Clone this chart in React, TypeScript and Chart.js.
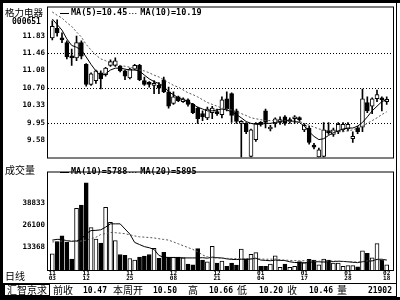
import React, { useEffect, useRef } from 'react';
import { Chart, registerables } from 'chart.js';

Chart.register(...registerables);

const stockName = '格力电器';
const stockCode = '000651';

const opens = [
  11.78, 11.99, 11.78, 11.68, 11.39, 11.35, 11.68, 11.21, 10.78, 10.86,
  11.03, 10.99, 11.19, 11.19, 11.17, 11.07, 10.92, 11.11, 11.19, 10.86,
  10.82, 10.76, 10.76, 10.88, 10.62, 10.37, 10.51, 10.41, 10.45, 10.35,
  10.27, 10.15, 10.06, 10.17, 10.19, 10.13, 10.47, 10.58, 10.21, 9.94,
  9.94, 9.23, 9.59, 9.94, 10.21, 9.82, 9.94, 9.96, 10.08, 9.98,
  10.04, 10.06, 9.80, 9.84, 9.47, 9.22, 9.23, 9.76, 9.70, 9.76,
  9.80, 9.82, 9.61, 9.84, 9.86, 10.39, 10.31, 10.47, 10.49, 10.41,
];
const highs = [
  12.15, 12.17, 11.89, 11.72, 11.54, 11.82, 11.72, 11.23, 11.03, 11.09,
  11.07, 11.15, 11.31, 11.35, 11.19, 11.09, 11.13, 11.21, 11.21, 10.94,
  10.84, 10.86, 10.82, 10.94, 10.72, 10.62, 10.53, 10.49, 10.47, 10.37,
  10.29, 10.21, 10.29, 10.31, 10.25, 10.51, 10.62, 10.60, 10.25, 10.00,
  9.96, 9.82, 9.96, 9.98, 10.25, 9.90, 10.06, 10.08, 10.11, 10.06,
  10.11, 10.08, 9.94, 9.88, 9.51, 9.41, 9.96, 9.96, 9.84, 9.96,
  9.96, 9.96, 9.76, 9.88, 10.68, 10.51, 10.49, 10.66, 10.51, 10.51,
];
const lows = [
  11.74, 11.82, 11.68, 11.33, 11.19, 11.29, 11.33, 10.74, 10.76, 10.80,
  10.68, 10.96, 11.17, 11.17, 11.05, 10.88, 10.90, 11.09, 10.86, 10.76,
  10.72, 10.58, 10.58, 10.60, 10.27, 10.35, 10.41, 10.39, 10.31, 10.15,
  9.94, 10.00, 10.02, 10.04, 10.11, 10.06, 10.21, 9.96, 9.94, 9.21,
  9.72, 9.21, 9.55, 9.88, 9.84, 9.78, 9.86, 9.92, 9.90, 9.94,
  9.94, 9.98, 9.76, 9.49, 9.39, 9.21, 9.21, 9.70, 9.66, 9.72,
  9.76, 9.78, 9.53, 9.72, 9.76, 10.17, 10.15, 10.41, 10.21, 10.35,
];
const closes = [
  12.03, 11.89, 11.74, 11.37, 11.35, 11.68, 11.39, 10.78, 11.01, 11.07,
  10.90, 11.13, 11.27, 11.29, 11.07, 10.96, 11.11, 11.19, 10.88, 10.78,
  10.78, 10.80, 10.70, 10.62, 10.31, 10.51, 10.43, 10.47, 10.35, 10.17,
  10.04, 10.08, 10.25, 10.27, 10.15, 10.45, 10.25, 10.11, 9.98, 9.98,
  9.76, 9.80, 9.94, 9.92, 9.96, 9.86, 10.04, 10.02, 9.94, 10.02,
  10.06, 10.02, 9.90, 9.53, 9.43, 9.37, 9.80, 9.74, 9.80, 9.92,
  9.92, 9.92, 9.66, 9.76, 10.47, 10.21, 10.47, 10.56, 10.45, 10.46,
];
const volumes = [
  9430, 16630, 19880, 16090, 6340, 35970, 37930, 50930, 24760, 18090,
  15710, 36520, 27850, 17170, 9050, 8510, 6720, 5800, 7590, 8130,
  9050, 12680, 6880, 10300, 7590, 7590, 7590, 7040, 3470, 3090,
  12460, 5800, 4710, 13760, 4010, 5260, 2170, 4010, 2930, 12140,
  6500, 9210, 10130, 2170, 2170, 3470, 8340, 1630, 3470, 1630,
  2170, 4880, 4330, 6170, 5800, 3090, 6340, 5800, 4010, 4010,
  2170, 2530, 2530, 1840, 11220, 9750, 7040, 15390, 5800, 3090,
];
const ma5 = [
  12.19, 12.07, 11.95, 11.76, 11.62, 11.58, 11.52, 11.37, 11.21, 11.07,
  10.96, 11.01, 11.09, 11.13, 11.13, 11.11, 11.09, 11.09, 11.07, 10.98,
  10.90, 10.84, 10.80, 10.74, 10.62, 10.56, 10.49, 10.45, 10.41, 10.35,
  10.29, 10.25, 10.21, 10.21, 10.23, 10.25, 10.23, 10.19, 10.13, 10.06,
  9.98, 9.94, 9.92, 9.92, 9.94, 9.94, 9.96, 9.98, 10.00, 10.00,
  9.98, 9.96, 9.88, 9.76, 9.66, 9.59, 9.61, 9.68, 9.74, 9.78,
  9.82, 9.84, 9.84, 9.88, 9.96, 10.08, 10.21, 10.31, 10.41, 10.45,
];
const ma10 = [
  12.34, 12.27, 12.21, 12.11, 12.03, 11.91, 11.80, 11.64, 11.52, 11.41,
  11.33, 11.29, 11.25, 11.21, 11.19, 11.17, 11.15, 11.13, 11.09, 11.07,
  11.03, 10.98, 10.94, 10.88, 10.82, 10.76, 10.72, 10.66, 10.60, 10.56,
  10.51, 10.45, 10.39, 10.35, 10.31, 10.27, 10.25, 10.23, 10.19, 10.15,
  10.11, 10.06, 10.04, 10.02, 10.00, 10.00, 10.00, 10.00, 10.00, 9.98,
  9.98, 9.98, 9.94, 9.90, 9.86, 9.82, 9.80, 9.78, 9.76, 9.76,
  9.76, 9.78, 9.80, 9.84, 9.88, 9.94, 10.00, 10.06, 10.13, 10.19,
];
const volMa10 = [
  17450, 17880, 17830, 17070, 16740, 16960, 17990, 21240, 23030, 23130,
  23460, 25030, 26930, 26930, 26930, 23950, 20970, 16090, 14840, 13650,
  13000, 12030, 8500, 7420, 7310, 7260, 7210, 7100, 7040, 7040,
  7040, 7180, 6900, 7500, 7200, 7000, 6500, 6200, 6100, 6300,
  6200, 6400, 6900, 5800, 5600, 5400, 5800, 5600, 5500, 4800,
  4400, 4300, 4100, 4500, 4800, 4800, 4600, 4900, 4900, 5100,
  5000, 4800, 4500, 4300, 4800, 5200, 5300, 6200, 6300, 5788,
];
const volMa20 = [
  16360, 16630, 16900, 17170, 16900, 16630, 16900, 17450, 18260, 19070,
  20700, 21240, 21890, 21780, 21510, 21180, 20530, 19880, 19340, 19180,
  18960, 18690, 18260, 17830, 17450, 16360, 15280, 14190, 13110, 12030,
  10670, 8780, 7690, 7150, 7000, 6900, 6800, 6700, 6600, 6700,
  6700, 6700, 6600, 6400, 6300, 6300, 6400, 6000, 5800, 5600,
  5500, 5400, 5400, 5300, 5200, 5100, 5100, 5300, 5200, 5100,
  5000, 4900, 4800, 4600, 5000, 5300, 5500, 5800, 5850, 5895,
];

const priceTicks = [11.83, 11.46, 11.08, 10.70, 10.33, 9.95, 9.58];
const priceGrid = [11.46, 10.70, 9.95];
const volumeTicks = [38833, 26100, 13368];
const dateLabels = ['11/03', '11/12', '11/25', '12/08', '12/21', '01/04', '01/17', '01/28', '02/18'];
const dateIndex = [0, 7, 16, 25, 34, 43, 52, 61, 69];
const periodLabel = '日线';
const volumeTitle = '成交量';
const brandLabel = '汇智京求';
const infoLabels = ['前收', '本周开', '高', '低', '收', '量'];
const infoValues = ['10.47', '10.50', '10.66', '10.20', '10.46', '21902'];

const MONO = '"DejaVu Sans Mono", monospace';
const CJK = '"Noto Sans CJK SC", sans-serif';
const X_MIN = -0.887;
const X_MAX = 70.3;
const PRICE_MIN = 9.205;
const PRICE_MAX = 12.437;
const VOL_MAX = 56900;

const mono = (size: number) => `bold ${size}px ${MONO}`;

function drawLegend(ctx: CanvasRenderingContext2D, y: number, texts: string[]) {
  ctx.save();
  ctx.strokeStyle = '#000';
  ctx.fillStyle = '#000';
  ctx.lineWidth = 1;
  ctx.font = mono(8.5);
  ctx.textBaseline = 'middle';
  let x = 60;
  texts.forEach((t, k) => {
    ctx.setLineDash(k === 0 ? [] : [1, 2]);
    ctx.beginPath();
    ctx.moveTo(x, Math.round(y) + 0.5);
    ctx.lineTo(x + 9, Math.round(y) + 0.5);
    ctx.stroke();
    x += 11;
    ctx.fillText(t, x, y);
    x += ctx.measureText(t).width + 2;
  });
  ctx.restore();
}

export default function App() {
  const priceRef = useRef<HTMLCanvasElement>(null);
  const volRef = useRef<HTMLCanvasElement>(null);

  useEffect(() => {
    const idx = closes.map((_, i) => i);
    const rising = idx.map((i) => closes[i] >= opens[i]);
    const fills = idx.map((i) => (rising[i] ? '#ffffff' : '#000000'));

    const pricePlugin = {
      id: 'priceDecor',
      beforeDatasetsDraw(chart: any) {
        const { ctx, chartArea: a, scales } = chart;
        ctx.save();
        ctx.strokeStyle = '#000';
        ctx.lineWidth = 1;
        ctx.setLineDash([1, 2]);
        priceGrid.forEach((v) => {
          const y = Math.round(scales.y.getPixelForValue(v)) + 0.5;
          ctx.beginPath();
          ctx.moveTo(a.left, y);
          ctx.lineTo(a.right, y);
          ctx.stroke();
        });
        ctx.restore();
      },
      afterDraw(chart: any) {
        const { ctx, chartArea: a } = chart;
        ctx.save();
        ctx.fillStyle = '#000';
        ctx.fillRect(0, 0, 400, 3);
        ctx.fillRect(0, 0, 3, chart.height);
        ctx.strokeStyle = '#000';
        ctx.lineWidth = 1;
        ctx.strokeRect(a.left - 0.5, a.top - 0.5, a.right - a.left + 1, a.bottom - a.top + 1);
        ctx.beginPath();
        ctx.moveTo(396.5, 3);
        ctx.lineTo(396.5, chart.height);
        ctx.stroke();
        ctx.textBaseline = 'middle';
        ctx.font = `9.5px ${CJK}`;
        ctx.fillText(stockName, 5, 12.5);
        ctx.font = mono(8);
        ctx.fillText(stockCode, 12, 22);
        ctx.restore();
        drawLegend(ctx, 13, [
          `MA(5)=${ma5[ma5.length - 1].toFixed(2)}`,
          `MA(10)=${ma10[ma10.length - 1].toFixed(2)}`,
        ]);
      },
    };

    const volPlugin = {
      id: 'volDecor',
      afterDraw(chart: any) {
        const { ctx, chartArea: a } = chart;
        const h = chart.height;
        ctx.save();
        ctx.fillStyle = '#000';
        ctx.fillRect(0, 0, 3, h);
        ctx.fillRect(0, h - 3, 400, 3);
        ctx.strokeStyle = '#000';
        ctx.lineWidth = 1;
        ctx.strokeRect(a.left - 0.5, a.top - 0.5, a.right - a.left + 1, a.bottom - a.top + 1);
        ctx.beginPath();
        ctx.moveTo(396.5, 0);
        ctx.lineTo(396.5, h - 3);
        ctx.stroke();
        const barTop = a.bottom + 13.5;
        const barBottom = h - 3.5;
        ctx.strokeRect(3.5, barTop, 393, barBottom - barTop);
        ctx.strokeRect(4.5, barTop + 1, 45, barBottom - barTop - 2);
        const midY = (barTop + barBottom) / 2 + 0.5;
        ctx.textBaseline = 'middle';
        ctx.font = `10px ${CJK}`;
        ctx.fillText(brandLabel, 7, midY);
        const labelX = [53, 113, 188, 237, 287, 337];
        const valueRight = [107, 177, 233, 283, 333, 392];
        infoLabels.forEach((t, k) => {
          ctx.font = `10px ${CJK}`;
          ctx.textAlign = 'left';
          ctx.fillText(t, labelX[k], midY);
          ctx.font = mono(8);
          ctx.textAlign = 'right';
          ctx.fillText(infoValues[k], valueRight[k], midY);
        });
        ctx.textAlign = 'left';
        ctx.font = `10px ${CJK}`;
        ctx.fillText(volumeTitle, 5, 5);
        ctx.fillText(periodLabel, 5, a.bottom + 6);
        ctx.restore();
        drawLegend(ctx, 7, [
          `MA(10)=${volMa10[volMa10.length - 1]}`,
          `MA(20)=${volMa20[volMa20.length - 1]}`,
        ]);
      },
    };

    const tickFont = { family: MONO, weight: 'bold' as const, size: 7.5 };

    const priceChart = new Chart(priceRef.current as HTMLCanvasElement, {
      type: 'bar',
      data: {
        datasets: [
          {
            type: 'bar',
            data: idx.map((i) => ({ x: i, y: [lows[i], highs[i]] })) as any,
            backgroundColor: '#000',
            barThickness: 1,
            grouped: false,
            order: 3,
          },
          {
            type: 'bar',
            data: idx.map((i) => ({
              x: i,
              y: [Math.min(opens[i], closes[i]), Math.max(opens[i], closes[i])],
            })) as any,
            backgroundColor: fills,
            borderColor: '#000',
            borderWidth: 1,
            borderSkipped: false,
            barThickness: 4,
            minBarLength: 2,
            grouped: false,
            order: 2,
          },
          {
            type: 'line',
            data: idx.map((i) => ({ x: i, y: ma5[i] })) as any,
            borderColor: '#000',
            borderWidth: 1,
            pointRadius: 0,
            order: 1,
          },
          {
            type: 'line',
            data: idx.map((i) => ({ x: i, y: ma10[i] })) as any,
            borderColor: '#555',
            borderWidth: 1,
            borderDash: [2, 2],
            pointRadius: 0,
            order: 0,
          },
        ] as any,
      },
      options: {
        responsive: false,
        maintainAspectRatio: false,
        animation: false,
        events: [],
        layout: { padding: { left: 0, right: 7, top: 6, bottom: 1 } },
        plugins: { legend: { display: false }, tooltip: { enabled: false } },
        scales: {
          x: { type: 'linear', min: X_MIN, max: X_MAX, offset: false, display: false },
          y: {
            type: 'linear',
            min: PRICE_MIN,
            max: PRICE_MAX,
            bounds: 'data',
            position: 'left',
            afterFit: (s: any) => {
              s.width = 48;
            },
            afterBuildTicks: (s: any) => {
              s.ticks = priceTicks.map((v) => ({ value: v }));
            },
            ticks: {
              autoSkip: false,
              padding: 3,
              color: '#000',
              font: tickFont,
              callback: (v: any) => Number(v).toFixed(2),
            },
            grid: { display: false, drawTicks: false },
            border: { display: false },
          },
        } as any,
      },
      plugins: [pricePlugin],
    });

    const volChart = new Chart(volRef.current as HTMLCanvasElement, {
      type: 'bar',
      data: {
        datasets: [
          {
            type: 'bar',
            data: idx.map((i) => ({ x: i, y: volumes[i] })) as any,
            backgroundColor: fills,
            borderColor: '#000',
            borderWidth: 1,
            borderSkipped: 'start',
            barThickness: 4,
            grouped: false,
            order: 2,
          },
          {
            type: 'line',
            data: idx.map((i) => ({ x: i, y: volMa10[i] })) as any,
            borderColor: '#000',
            borderWidth: 1,
            pointRadius: 0,
            order: 1,
          },
          {
            type: 'line',
            data: idx.map((i) => ({ x: i, y: volMa20[i] })) as any,
            borderColor: '#555',
            borderWidth: 1,
            borderDash: [2, 2],
            pointRadius: 0,
            order: 0,
          },
        ] as any,
      },
      options: {
        responsive: false,
        maintainAspectRatio: false,
        animation: false,
        events: [],
        layout: { padding: { left: 0, right: 7, top: 0, bottom: 17 } },
        plugins: { legend: { display: false }, tooltip: { enabled: false } },
        scales: {
          x: {
            type: 'linear',
            min: X_MIN,
            max: X_MAX,
            offset: false,
            bounds: 'data',
            position: 'bottom',
            afterFit: (s: any) => {
              s.height = 13;
            },
            afterBuildTicks: (s: any) => {
              s.ticks = dateIndex.map((v) => ({ value: v }));
            },
            ticks: {
              autoSkip: false,
              maxRotation: 0,
              minRotation: 0,
              padding: 1,
              color: '#000',
              font: { family: MONO, weight: 'bold', size: 6, lineHeight: 0.8 },
              callback: (_v: any, k: number) => dateLabels[k].split('/'),
            },
            grid: { display: false, drawTicks: false, offset: false },
            border: { display: false },
          },
          y: {
            type: 'linear',
            min: 0,
            max: VOL_MAX,
            bounds: 'data',
            position: 'left',
            afterFit: (s: any) => {
              s.width = 48;
            },
            afterBuildTicks: (s: any) => {
              s.ticks = volumeTicks.map((v) => ({ value: v }));
            },
            ticks: {
              autoSkip: false,
              padding: 3,
              color: '#000',
              font: tickFont,
              callback: (v: any) => String(v),
            },
            grid: { display: false, drawTicks: false },
            border: { display: false },
          },
        } as any,
      },
      plugins: [volPlugin],
    });

    return () => {
      priceChart.destroy();
      volChart.destroy();
    };
  }, []);

  return (
    <div
      style={{
        position: 'fixed',
        left: 0,
        top: 0,
        width: 400,
        height: 300,
        background: '#fff',
        overflow: 'hidden',
      }}
    >
      <canvas
        ref={priceRef}
        width={400}
        height={165}
        style={{ position: 'absolute', left: 0, top: 0, width: 400, height: 165 }}
      />
      <canvas
        ref={volRef}
        width={400}
        height={135}
        style={{ position: 'absolute', left: 0, top: 165, width: 400, height: 135 }}
      />
    </div>
  );
}
